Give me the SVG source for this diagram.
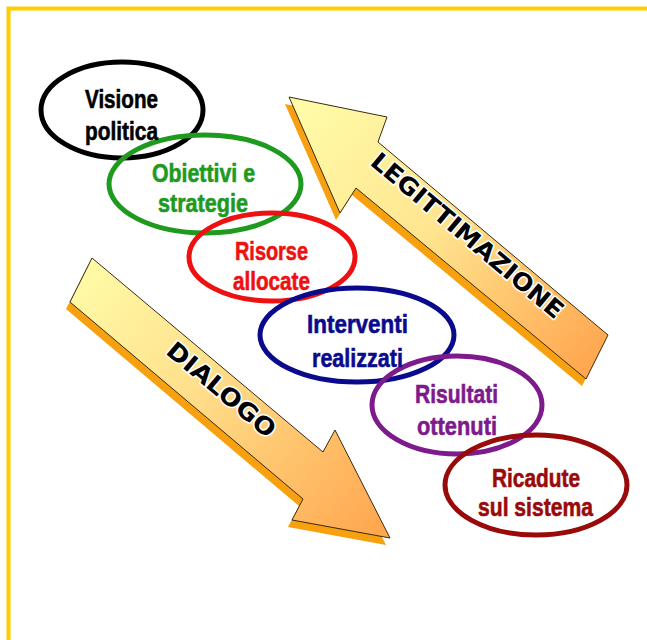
<svg xmlns="http://www.w3.org/2000/svg" width="647" height="640" viewBox="0 0 647 640">
<defs>
<linearGradient id="gLeg" gradientUnits="userSpaceOnUse" x1="300" y1="110" x2="600" y2="360">
<stop offset="0" stop-color="#FFFBA8"/>
<stop offset="0.45" stop-color="#FFE590"/>
<stop offset="1" stop-color="#FFA64E"/>
</linearGradient>
<linearGradient id="gDia" gradientUnits="userSpaceOnUse" x1="80" y1="270" x2="385" y2="530">
<stop offset="0" stop-color="#FFFBA8"/>
<stop offset="0.4" stop-color="#FFE08C"/>
<stop offset="1" stop-color="#FFA64E"/>
</linearGradient>
<style>
.sh{fill:#F7A010;}
.ar{stroke:#3a2a10;stroke-width:1;}
.big{font-family:"DejaVu Sans",Verdana,sans-serif;font-weight:bold;font-size:24px;fill:#000;stroke:#fff;stroke-width:3;paint-order:stroke;stroke-linejoin:round;}
.ell{fill:none;stroke-width:5;}
.lab{font-family:"Liberation Sans",Arial,sans-serif;font-weight:bold;font-size:26px;text-anchor:middle;stroke-width:0.6;}
</style>
</defs>
<rect width="647" height="640" fill="#fff"/>
<path d="M8.5,640 V8.5 H647" fill="none" stroke="#FFCC00" stroke-width="4"/>

<g id="legittimazione">
<path class="sh" transform="translate(-4,7)" d="M289,97 L387,117 L378,142 L608,335 L586,379 L356,188 L340,213 Z"/>
<path class="ar" fill="url(#gLeg)" d="M289,97 L387,117 L378,142 L608,335 L586,379 L356,188 L340,213 Z"/>
<text class="big" transform="translate(462,242) rotate(40)" text-anchor="middle" textLength="243" lengthAdjust="spacingAndGlyphs">LEGITTIMAZIONE</text>
</g>

<g id="dialogo">
<path class="sh" transform="translate(-4,7)" d="M92,258 L323,452 L335,430 L390,538 L292,520 L303,499 L70,302 Z"/>
<path class="ar" fill="url(#gDia)" d="M92,258 L323,452 L335,430 L390,538 L292,520 L303,499 L70,302 Z"/>
<text class="big" transform="translate(216,396) rotate(40)" text-anchor="middle" textLength="134" lengthAdjust="spacingAndGlyphs">DIALOGO</text>
</g>

<g id="visione">
<ellipse class="ell" cx="122" cy="110" rx="81" ry="48" stroke="#000"/>
</g>
<g id="obiettivi">
<ellipse class="ell" cx="205" cy="184" rx="96" ry="49" stroke="#1E9A1E"/>
</g>
<g id="risorse">
<ellipse class="ell" cx="272" cy="257" rx="83" ry="44" stroke="#EE1111"/>
</g>
<g id="interventi">
<ellipse class="ell" cx="357" cy="335" rx="97" ry="47" stroke="#0A0A8C"/>
</g>
<g id="risultati">
<ellipse class="ell" cx="457" cy="405" rx="85" ry="49" stroke="#7D1A8C"/>
</g>
<g id="ricadute">
<ellipse class="ell" cx="536" cy="485" rx="91" ry="50" stroke="#990A0A"/>
</g>

<g id="labels">
<text class="lab" fill="#000" stroke="#000" x="121.5" y="108" textLength="73" lengthAdjust="spacingAndGlyphs">Visione</text>
<text class="lab" fill="#000" stroke="#000" x="121.5" y="140" textLength="73" lengthAdjust="spacingAndGlyphs">politica</text>
<text class="lab" fill="#1E9A1E" stroke="#1E9A1E" x="203.5" y="182" textLength="103" lengthAdjust="spacingAndGlyphs">Obiettivi e</text>
<text class="lab" fill="#1E9A1E" stroke="#1E9A1E" x="203" y="212" textLength="90" lengthAdjust="spacingAndGlyphs">strategie</text>
<text class="lab" fill="#EE1111" stroke="#EE1111" x="271.5" y="260" textLength="73" lengthAdjust="spacingAndGlyphs">Risorse</text>
<text class="lab" fill="#EE1111" stroke="#EE1111" x="271.5" y="290" textLength="77" lengthAdjust="spacingAndGlyphs">allocate</text>
<text class="lab" fill="#0A0A8C" stroke="#0A0A8C" x="357.5" y="333" textLength="101" lengthAdjust="spacingAndGlyphs">Interventi</text>
<text class="lab" fill="#0A0A8C" stroke="#0A0A8C" x="357.5" y="367" textLength="91" lengthAdjust="spacingAndGlyphs">realizzati</text>
<text class="lab" fill="#7D1A8C" stroke="#7D1A8C" x="456.5" y="403" textLength="83" lengthAdjust="spacingAndGlyphs">Risultati</text>
<text class="lab" fill="#7D1A8C" stroke="#7D1A8C" x="457" y="435" textLength="80" lengthAdjust="spacingAndGlyphs">ottenuti</text>
<text class="lab" fill="#990A0A" stroke="#990A0A" x="536" y="487" textLength="88" lengthAdjust="spacingAndGlyphs">Ricadute</text>
<text class="lab" fill="#990A0A" stroke="#990A0A" x="535.5" y="516" textLength="115" lengthAdjust="spacingAndGlyphs">sul sistema</text>
</g>
</svg>
